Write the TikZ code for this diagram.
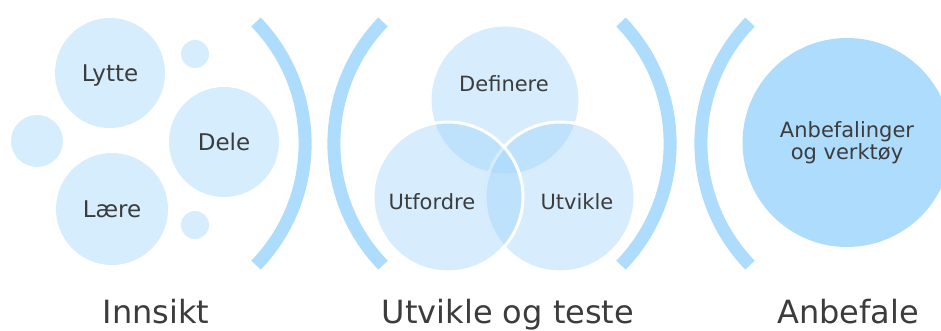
\documentclass[tikz,border=0pt]{standalone}
\usepackage{fontspec}
\setmainfont{DejaVu Sans}
\definecolor{arcblue}{HTML}{ADDCFD}
\definecolor{paleblue}{HTML}{D6EDFD}
\definecolor{vennblue}{HTML}{9FD4FA}
\definecolor{textgray}{HTML}{3C3C3C}
\tikzset{
  bubble/.style={circle, fill=paleblue, inner sep=0pt, minimum size=#1},
  venn/.style={circle, fill=vennblue, fill opacity=0.42, draw=white, draw opacity=1,
    line width=3pt, inner sep=0pt, minimum size=150pt},
  bracket/.style={arcblue, line width=13pt},
  word/.style={text=textgray, font=\fontsize{23}{27}\selectfont, text height=16.5pt, text depth=0pt},
  vennword/.style={text=textgray, font=\fontsize{21}{25}\selectfont, anchor=base},
  title/.style={text=textgray, font=\fontsize{32}{37}\selectfont, anchor=base}
}
\begin{document}
\begin{tikzpicture}[x=1pt, y=1pt]
  \useasboundingbox (0,0) rectangle (941,331);

  % Innsikt
  \node[bubble=110pt, word] (lytte) at (110,258) {Lytte};
  \node[bubble=110pt, word] (dele) at (224,189) {Dele};
  \node[bubble=112pt, word] (laere) at (112,122) {Lære};
  \node[bubble=52pt] (dotleft) at (37,190) {};
  \node[bubble=28pt] (dottop) at (195,277) {};
  \node[bubble=28pt] (dotbottom) at (195,106) {};

  % Klammer
  \draw[bracket] (256,309) arc[start angle=44, end angle=-44, radius=175];
  \draw[bracket] (383,309) arc[start angle=136, end angle=224, radius=175];
  \draw[bracket] (621,309) arc[start angle=44, end angle=-44, radius=175];
  \draw[bracket] (750,309) arc[start angle=136, end angle=224, radius=175];

  % Utvikle og teste (venn)
  \node[venn] (definere) at (505,231) {};
  \node[venn] (utvikle) at (560,134) {};
  \node[venn] (utfordre) at (448,134) {};
  \node[vennword] (definerelbl) at (504,239) {Definere};
  \node[vennword] (utfordrelbl) at (432,121) {Utfordre};
  \node[vennword] (utviklelbl) at (577,121) {Utvikle};

  % Anbefale
  \node[circle, fill=arcblue, inner sep=0pt, minimum size=209pt, text=textgray,
    align=center, font=\fontsize{21}{22}\selectfont] (anbefalinger) at (847,188.5)
    {Anbefalinger\\og verktøy};

  % Titler
  \node[title] (innsikt) at (156,7.5) {Innsikt};
  \node[title] (utvikleteste) at (508,7.5) {Utvikle og teste};
  \node[title] (anbefale) at (848,7.5) {Anbefale};
\end{tikzpicture}
\end{document}
